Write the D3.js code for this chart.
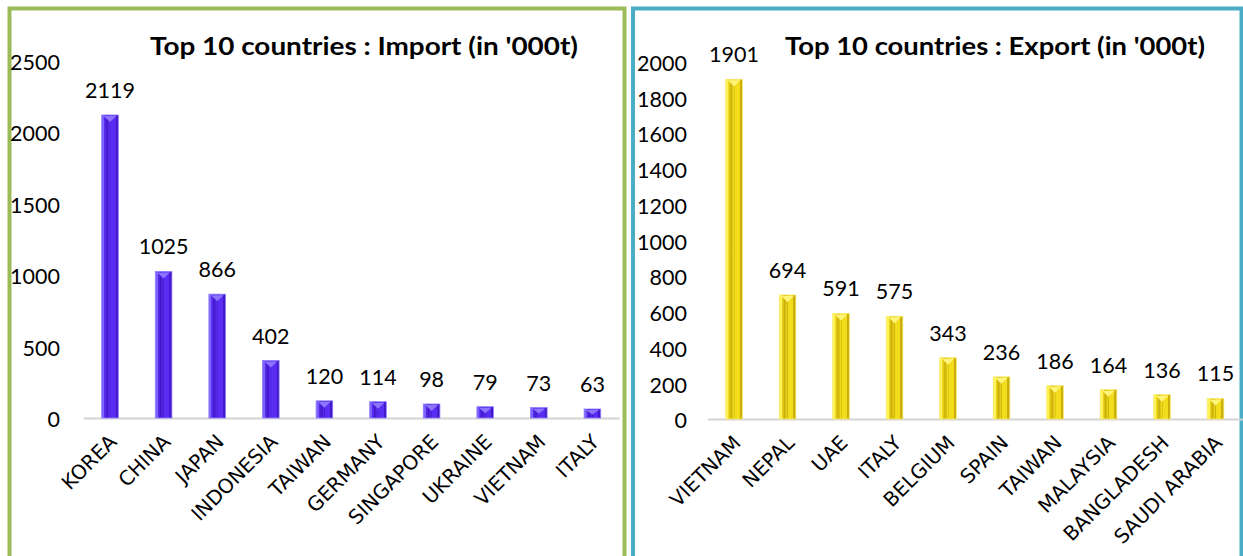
<!DOCTYPE html>
<html>
<head>
<meta charset="utf-8">
<script src="https://cdn.jsdelivr.net/npm/d3@7"></script>
<style>
body { margin: 0; background: #fff; }
svg { display: block; background: #fff; }
.num { font-family: Lato, 'Open Sans', sans-serif; font-size: 21.5px; fill: #000; }
.cat { font-family: 'DejaVu Sans', Verdana, sans-serif; font-size: 20px; fill: #000; }
.title { font-family: Lato, 'Open Sans', sans-serif; font-size: 24px; font-weight: bold; fill: #000; }
</style>
</head>
<body>
<svg id="chart" width="1243" height="556"></svg>
<script>
// data
var importCountries = ['KOREA', 'CHINA', 'JAPAN', 'INDONESIA', 'TAIWAN', 'GERMANY', 'SINGAPORE', 'UKRAINE', 'VIETNAM', 'ITALY'];
var importValues = [2119, 1025, 866, 402, 120, 114, 98, 79, 73, 63];
var importTicks = [0, 500, 1000, 1500, 2000, 2500];

var exportCountries = ['VIETNAM', 'NEPAL', 'UAE', 'ITALY', 'BELGIUM', 'SPAIN', 'TAIWAN', 'MALAYSIA', 'BANGLADESH', 'SAUDI ARABIA'];
var exportValues = [1901, 694, 591, 575, 343, 236, 186, 164, 136, 115];
var exportTicks = [0, 200, 400, 600, 800, 1000, 1200, 1400, 1600, 1800, 2000];

var svg = d3.select('#chart');
var defs = svg.append('defs');

// beveled bar look: light edges, darker inner strips
function bevelGradient(id, light, body, dark) {
	var g = defs.append('linearGradient')
	  .attr('id', id)
	  .attr('x1', 0).attr('x2', 1).attr('y1', 0).attr('y2', 0);
	var stops = [[0, light], [0.14, light], [0.16, body], [0.32, dark], [0.48, body], [0.5, dark], [0.55, body], [0.84, body], [0.86, dark], [1, dark]];
	stops.forEach(function(s) {
		g.append('stop').attr('offset', s[0]).attr('stop-color', s[1]);
	});
}
bevelGradient('purpleBar', '#7d62ff', '#5a2ef2', '#4318c9');
bevelGradient('yellowBar', '#fff25a', '#f2dc1c', '#c9ae0b');

function drawPanel(p) {
	// panel frame
	svg.append('rect')
	  .attr('x', p.frame[0])
	  .attr('y', 8.5)
	  .attr('width', p.frame[1] - p.frame[0])
	  .attr('height', 600)
	  .attr('fill', 'none')
	  .attr('stroke', p.border)
	  .attr('stroke-width', 4);

	var x = d3.scaleBand()
	  .domain(p.countries)
	  .range(p.xRange)
	  .paddingInner(0.69)
	  .paddingOuter(0.345);

	var y = d3.scaleLinear()
	  .domain([0, p.max])
	  .range([p.base, p.top]);

	// y labels (no axis line, no ticks)
	var yAxis = svg.append('g')
	  .attr('transform', 'translate(' + p.yLabelX + ',2)')
	  .call(d3.axisLeft(y).tickValues(p.ticks).tickSize(0).tickPadding(0).tickFormat(d3.format('d')));
	yAxis.select('.domain').remove();
	yAxis.selectAll('text').attr('class', 'num').attr('fill', null);

	// category axis
	var xAxis = svg.append('g')
	  .attr('transform', 'translate(0,' + p.base + ')')
	  .call(d3.axisBottom(x).tickSize(0).tickSizeOuter(0));
	xAxis.select('.domain')
	  .attr('stroke', '#d4d4d4')
	  .attr('stroke-width', 2);
	xAxis.selectAll('text')
	  .attr('class', 'cat')
	  .attr('fill', null)
	  .attr('x', 0)
	  .attr('y', 0)
	  .attr('dy', 0)
	  .attr('transform', 'translate(8,25) rotate(-45)')
	  .style('text-anchor', 'end');

	var w = x.bandwidth();
	var bars = svg.append('g').selectAll('g')
	  .data(p.values)
	  .join('g')
	  .attr('transform', function(d, i) { return 'translate(' + x(p.countries[i]) + ',0)'; });

	bars.append('rect')
	  .attr('x', 0)
	  .attr('y', function(d) { return y(d); })
	  .attr('width', w)
	  .attr('height', function(d) { return p.base - y(d); })
	  .attr('fill', 'url(#' + p.grad + ')')
	  .attr('stroke', p.edge)
	  .attr('stroke-width', 0.8);

	// little bevel triangle at the top of each bar
	bars.append('path')
	  .attr('d', function(d) {
		  var t = y(d);
		  var h = Math.min(6, (p.base - t) / 2);
		  return 'M2,' + (t + 1) + 'L' + (w - 2) + ',' + (t + 1) + 'L' + (w / 2) + ',' + (t + 1 + h) + 'Z';
	  })
	  .attr('fill', p.cap);

	// value labels
	bars.append('text')
	  .attr('class', 'num')
	  .attr('x', w / 2)
	  .attr('y', function(d) { return y(d) - 17; })
	  .attr('text-anchor', 'middle')
	  .text(function(d) { return d; });

	svg.append('text')
	  .attr('class', 'title')
	  .attr('x', p.titleX)
	  .attr('y', 55)
	  .attr('textLength', p.titleW)
	  .attr('lengthAdjust', 'spacingAndGlyphs')
	  .text(p.title);
}

drawPanel({
	frame: [9.5, 624.5],
	border: '#9bbb59',
	countries: importCountries,
	values: importValues,
	ticks: importTicks,
	max: 2500,
	xRange: [83.2, 619.2],
	base: 418,
	top: 60.5,
	yLabelX: 60,
	grad: 'purpleBar',
	edge: '#8f7dff',
	cap: '#8d74ff',
	title: "Top 10 countries : Import (in '000t)",
	titleX: 150,
	titleW: 428
});

drawPanel({
	frame: [633, 1241.5],
	border: '#4bacc6',
	countries: exportCountries,
	values: exportValues,
	ticks: exportTicks,
	max: 2000,
	xRange: [707.3, 1242.3],
	base: 419,
	top: 61.6,
	yLabelX: 687,
	grad: 'yellowBar',
	edge: '#f7ea6a',
	cap: '#fff47a',
	title: "Top 10 countries : Export (in '000t)",
	titleX: 785,
	titleW: 420
});
</script>
</body>
</html>
